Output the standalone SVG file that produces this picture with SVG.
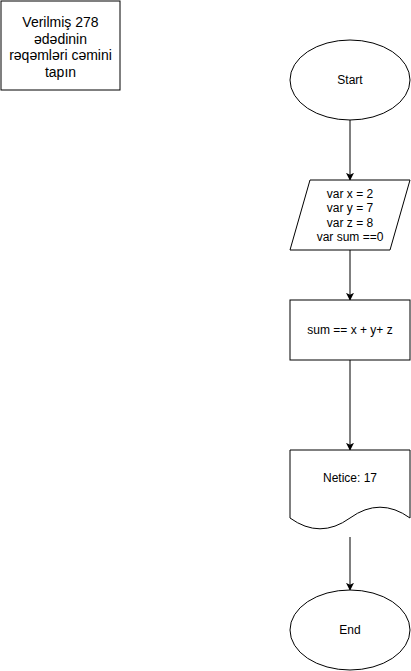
<svg xmlns="http://www.w3.org/2000/svg" width="411" height="671" viewBox="0 0 411 671">
  <style>
    .shape { fill: #ffffff; stroke: #000000; stroke-width: 1; }
    .lbl { font-family: "Liberation Sans", Arial, Helvetica, sans-serif; font-size: 12px; fill: #000000; text-anchor: middle; }
    .title { font-size: 14px; }
    .edge { fill: none; stroke: #000000; stroke-width: 1; }
  </style>
  <defs>
    <marker id="arrow" viewBox="0 0 10 10" refX="9" refY="5" markerWidth="8" markerHeight="8" markerUnits="userSpaceOnUse" orient="auto">
      <path d="M0,0 L10,5 L0,10 L2.5,5 Z" fill="#000000"/>
    </marker>
  </defs>

  <rect width="411" height="671" fill="#ffffff"/>

  <!-- task description -->
  <g id="task">
    <rect class="shape" x="1" y="1" width="119" height="89"/>
    <text class="lbl title" x="60.5" y="27">Verilmiş 278</text>
    <text class="lbl title" x="60.5" y="43.5">ədədinin</text>
    <text class="lbl title" x="60.5" y="60">rəqəmləri cəmini</text>
    <text class="lbl title" x="60.5" y="76.5">tapın</text>
  </g>

  <!-- connectors -->
  <g id="edges">
    <line class="edge" x1="350" y1="120" x2="350" y2="180" marker-end="url(#arrow)"/>
    <line class="edge" x1="350" y1="250" x2="350" y2="300" marker-end="url(#arrow)"/>
    <line class="edge" x1="350" y1="360" x2="350" y2="450" marker-end="url(#arrow)"/>
    <line class="edge" x1="350" y1="537" x2="350" y2="590" marker-end="url(#arrow)"/>
  </g>

  <g id="start">
    <ellipse class="shape" cx="350" cy="80" rx="60" ry="40"/>
    <text class="lbl" x="350" y="84">Start</text>
  </g>

  <g id="input">
    <polygon class="shape" points="310,180 410,180 390,250 290,250"/>
    <text class="lbl" x="350" y="198">var x = 2</text>
    <text class="lbl" x="350" y="212.4">var y = 7</text>
    <text class="lbl" x="350" y="226.8">var z = 8</text>
    <text class="lbl" x="350" y="241.2">var sum ==0</text>
  </g>

  <g id="process">
    <rect class="shape" x="290" y="300" width="120" height="60"/>
    <text class="lbl" x="350" y="334">sum == x + y+ z</text>
  </g>

  <g id="output">
    <path class="shape" d="M290,450 H410 V518 Q380,496.4 350,518 Q320,539.6 290,518 Z"/>
    <text class="lbl" x="350" y="482">Netice: 17</text>
  </g>

  <g id="end">
    <ellipse class="shape" cx="350" cy="630" rx="60" ry="40"/>
    <text class="lbl" x="350" y="634">End</text>
  </g>
</svg>
